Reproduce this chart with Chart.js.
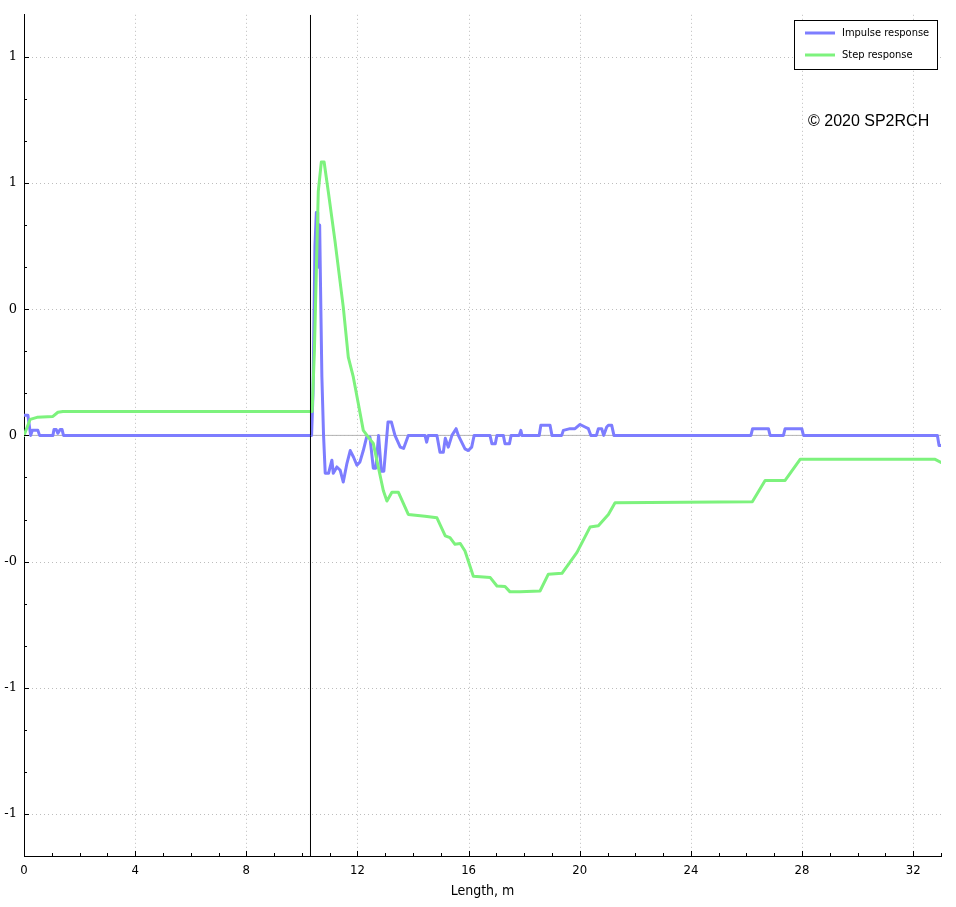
<!DOCTYPE html>
<html>
<head>
<meta charset="utf-8">
<title>Impulse / step response</title>
<script src="https://cdn.jsdelivr.net/npm/chart.js@4.4.1/dist/chart.umd.min.js"></script>
<style>
  html, body { margin: 0; padding: 0; background: #fff; }
  #chart { display: block; }
</style>
</head>
<body>
<canvas id="chart" width="956" height="907"></canvas>
<script>
// distance in metres vs. normalised response
const impulseX = [0, 0.14, 0.24, 0.30, 0.50, 0.56, 1.04, 1.08, 1.16, 1.22, 1.30, 1.37, 1.42,
  10.35, 10.40, 10.47, 10.52, 10.57, 10.60, 10.64, 10.67, 10.72, 10.78, 10.84, 10.96, 11.08, 11.13,
  11.26, 11.38, 11.49, 11.62, 11.74, 11.86, 11.98, 12.09, 12.21, 12.33, 12.45, 12.57, 12.66, 12.76,
  12.86, 12.95, 13.10, 13.22, 13.35, 13.54, 13.66, 13.83, 14.43, 14.49, 14.55, 14.86, 14.97, 15.09,
  15.16, 15.27, 15.40, 15.55, 15.63, 15.75, 15.87, 15.99, 16.11, 16.20, 16.77, 16.84, 16.96, 17.02,
  17.25, 17.31, 17.47, 17.53, 17.82, 17.88, 17.92, 18.54, 18.60, 18.93, 19.00, 19.35, 19.41, 19.65,
  19.83, 20.01, 20.19, 20.31, 20.40, 20.60, 20.67, 20.79, 20.86, 20.97, 21.03, 21.15, 21.23, 26.16,
  26.22, 26.79, 26.85, 27.33, 27.39, 27.99, 28.05, 32.87, 32.93, 33.0];
const impulseY = [0.048, 0.048, 0, 0.012, 0.012, 0, 0, 0.014, 0.014, 0.005, 0.014, 0.014, 0,
  0, 0.10, 0.45, 0.53, 0.53, 0.40, 0.50, 0.36, 0.139, 0, -0.09, -0.09, -0.059, -0.09,
  -0.075, -0.083, -0.111, -0.067, -0.036, -0.052, -0.071, -0.063, -0.036, -0.004, -0.004, -0.078, -0.078, 0,
  -0.085, -0.085, 0.032, 0.032, 0, -0.028, -0.031, 0, 0, -0.016, 0, 0, -0.040, -0.040,
  -0.007, -0.028, 0, 0.016, 0, -0.016, -0.032, -0.036, -0.028, 0, 0, -0.020, -0.020, 0,
  0, -0.020, -0.020, 0, 0, 0.012, 0, 0, 0.024, 0.024, 0, 0, 0.012, 0.016,
  0.016, 0.026, 0.020, 0.016, 0, 0, 0.016, 0.016, 0, 0.020, 0.024, 0.024, 0, 0,
  0.016, 0.016, 0, 0, 0.016, 0.016, 0, 0, -0.024, -0.024];

const stepX = [0, 0.22, 0.47, 1.04, 1.22, 1.40, 10.37, 10.45, 10.59, 10.70, 10.80, 10.95, 11.19,
  11.49, 11.67, 11.85, 12.03, 12.21, 12.39, 12.57, 12.75, 12.93, 13.06, 13.24, 13.47, 13.83, 14.43,
  14.86, 15.16, 15.33, 15.51, 15.70, 15.87, 16.17, 16.78, 17.02, 17.31, 17.49, 17.85, 18.57, 18.87,
  19.36, 19.90, 20.37, 20.67, 21.03, 21.27, 26.21, 26.67, 27.39, 27.93, 32.79, 33.0];
const stepY = [0, 0.038, 0.043, 0.045, 0.055, 0.057, 0.057, 0.20, 0.58, 0.65, 0.65, 0.58, 0.463,
  0.305, 0.186, 0.139, 0.076, 0.012, -0.004, -0.019, -0.075, -0.131, -0.156, -0.135, -0.135, -0.188, -0.192,
  -0.196, -0.239, -0.243, -0.259, -0.257, -0.275, -0.335, -0.338, -0.358, -0.359, -0.372, -0.372, -0.370, -0.330,
  -0.328, -0.278, -0.218, -0.215, -0.188, -0.160, -0.158, -0.107, -0.107, -0.057, -0.057, -0.064];

const markerX = 10.31;

const xTickValues = [0, 4, 8, 12, 16, 20, 24, 28, 32];
const yTickValues = [-0.9, -0.6, -0.3, 0, 0.3, 0.6, 0.9];
const yTickLabels = ['-1', '-1', '-0', '0', '0', '1', '1'];

const blue = 'rgb(125,125,255)';
const green = 'rgb(125,242,125)';

const toPoints = (xs, ys) => xs.map((x, i) => ({ x: x, y: ys[i] }));

const overlay = {
  id: 'overlay',
  beforeDatasetsDraw(chart) {
    const { ctx, chartArea: a, scales: { x, y } } = chart;
    ctx.save();
    ctx.strokeStyle = '#bdbdbd';
    ctx.lineWidth = 1;
    ctx.setLineDash([1, 3]);
    xTickValues.forEach(v => {
      if (v === 0) return;
      const px = Math.round(x.getPixelForValue(v)) + 0.5;
      ctx.beginPath(); ctx.moveTo(px, a.top); ctx.lineTo(px, a.bottom); ctx.stroke();
    });
    yTickValues.forEach(v => {
      const py = Math.round(y.getPixelForValue(v)) + 0.5;
      ctx.beginPath(); ctx.moveTo(a.left, py); ctx.lineTo(a.right, py); ctx.stroke();
    });
    ctx.restore();
  },
  afterDraw(chart) {
    const { ctx, chartArea: a, scales: { x, y } } = chart;
    ctx.save();
    // inward ticks
    ctx.setLineDash([]);
    ctx.strokeStyle = '#000';
    ctx.lineWidth = 1;
    for (let v = 0; v <= 33; v++) {
      const px = Math.round(x.getPixelForValue(v)) + 0.5;
      const len = v % 4 === 0 ? 5 : 3;
      ctx.beginPath(); ctx.moveTo(px, a.bottom); ctx.lineTo(px, a.bottom - len); ctx.stroke();
    }
    for (let k = -9; k <= 9; k++) {
      const py = Math.round(y.getPixelForValue(k / 10)) + 0.5;
      const len = k % 3 === 0 ? 5 : 3;
      ctx.beginPath(); ctx.moveTo(a.left, py); ctx.lineTo(a.left + len, py); ctx.stroke();
    }

    // legend box
    const lx = 794, ly = 20, lw = 143, lh = 49;
    ctx.fillStyle = '#fff';
    ctx.fillRect(lx, ly, lw, lh);
    ctx.strokeRect(lx + 0.5, ly + 0.5, lw, lh);
    ctx.font = '11px "DejaVu Sans Condensed", "DejaVu Sans", sans-serif';
    ctx.textBaseline = 'middle';
    ctx.textAlign = 'left';
    chart.data.datasets
      .filter(d => d.legendIndex !== undefined)
      .sort((p, q) => p.legendIndex - q.legendIndex)
      .forEach((d, i) => {
        const yy = ly + 13 + i * 22;
        ctx.strokeStyle = d.borderColor;
        ctx.lineWidth = 3;
        ctx.beginPath(); ctx.moveTo(lx + 11, yy); ctx.lineTo(lx + 41, yy); ctx.stroke();
        ctx.fillStyle = '#000';
        ctx.fillText(d.label, lx + 48, yy);
      });

    // copyright
    ctx.font = '16px "Liberation Sans", Arial, sans-serif';
    ctx.fillStyle = '#000';
    ctx.fillText('\u00A9 2020 SP2RCH', 808, 122);
    ctx.restore();
  }
};

const lineStyle = { pointRadius: 0, tension: 0, borderJoinStyle: 'round', borderCapStyle: 'round' };

new Chart(document.getElementById('chart'), {
  type: 'line',
  data: {
    datasets: [
      {
        label: 'Marker',
        data: [{ x: markerX, y: -1 }, { x: markerX, y: 1 }],
        borderColor: '#000',
        borderWidth: 1,
        pointRadius: 0,
        order: 0
      },
      Object.assign({
        label: 'Step response',
        data: toPoints(stepX, stepY),
        borderColor: green,
        borderWidth: 3,
        legendIndex: 1,
        order: 1
      }, lineStyle),
      Object.assign({
        label: 'Impulse response',
        data: toPoints(impulseX, impulseY),
        borderColor: blue,
        borderWidth: 3,
        legendIndex: 0,
        order: 2
      }, lineStyle),
      {
        label: 'Zero',
        data: [{ x: 0, y: 0 }, { x: 33, y: 0 }],
        borderColor: '#b4b4b4',
        borderWidth: 1,
        pointRadius: 0,
        order: 3
      }
    ]
  },
  options: {
    responsive: false,
    animation: false,
    layout: { padding: { top: 14, right: 15, bottom: 0, left: 0 } },
    plugins: {
      legend: { display: false },
      tooltip: { enabled: false }
    },
    scales: {
      x: {
        type: 'linear',
        min: 0,
        max: 33,
        afterBuildTicks: s => { s.ticks = xTickValues.map(v => ({ value: v })); },
        afterFit: s => { s.height = 51; },
        ticks: {
          color: '#000',
          padding: 7,
          maxRotation: 0,
          autoSkip: false,
          font: { family: '"DejaVu Sans Condensed", "DejaVu Sans", sans-serif', size: 13 }
        },
        grid: { display: false, drawOnChartArea: false, drawTicks: false },
        border: { display: true, color: '#000', width: 1 },
        title: {
          display: true,
          text: 'Length, m',
          color: '#000',
          padding: { top: 4, bottom: 7 },
          font: { family: '"DejaVu Sans Condensed", "DejaVu Sans", sans-serif', size: 14 }
        }
      },
      y: {
        type: 'linear',
        min: -1,
        max: 1,
        afterBuildTicks: s => { s.ticks = yTickValues.map(v => ({ value: v })); },
        afterFit: s => { s.width = 24; },
        ticks: {
          color: '#000',
          padding: 7,
          callback: (v, i) => yTickLabels[i],
          font: { family: '"DejaVu Serif", serif', size: 13 }
        },
        grid: { display: false, drawOnChartArea: false, drawTicks: false },
        border: { display: true, color: '#000', width: 1 }
      }
    }
  },
  plugins: [overlay]
});
</script>
</body>
</html>
